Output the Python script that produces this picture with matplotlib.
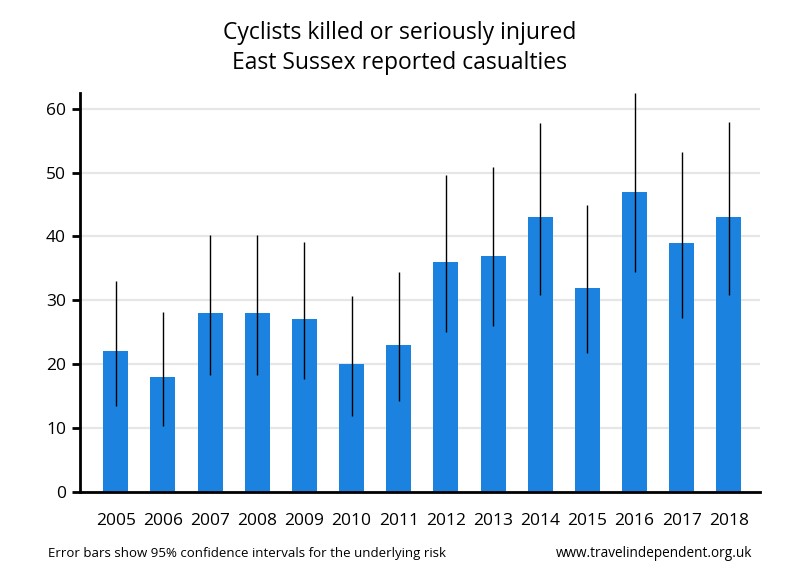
import numpy as np
import matplotlib.pyplot as plt

plt.rcParams['font.family'] = ['Open Sans', 'DejaVu Sans']

# data
years = ['2005', '2006', '2007', '2008', '2009', '2010', '2011',
         '2012', '2013', '2014', '2015', '2016', '2017', '2018']
casualties = [22, 18, 28, 28, 27, 20, 23, 36, 37, 43, 32, 47, 39, 43]
ci_low = [13.5, 10.3, 18.3, 18.3, 17.6, 11.9, 14.3, 25.1, 26.0, 30.9, 21.8, 34.5, 27.3, 30.9]
ci_high = [33.1, 28.2, 40.3, 40.3, 39.2, 30.7, 34.5, 49.7, 50.9, 57.8, 45.0, 62.4, 53.2, 57.9]

x = np.arange(len(years))
vals = np.array(casualties)
err = [vals - np.array(ci_low), np.array(ci_high) - vals]

fig = plt.figure(figsize=(8, 5.8), dpi=100)
ax = fig.add_axes([0.1, 0.152, 0.85, 0.688])

ax.bar(x, vals, width=0.53, color='#1c82e0', zorder=2)
ax.errorbar(x, vals, yerr=err, fmt='none', ecolor='black', elinewidth=1, capsize=0, zorder=3)

ax.set_xlim(-0.76, 13.66)
ax.set_ylim(0, 62.5)
ax.set_yticks([0, 10, 20, 30, 40, 50, 60])
ax.set_xticks(x)
ax.set_xticklabels(years)
ax.yaxis.grid(True, color='#e6e6e6', linewidth=1.6, zorder=0)
ax.set_axisbelow(True)

for s in ['top', 'right']:
    ax.spines[s].set_visible(False)
ax.spines['left'].set_linewidth(2)
ax.spines['bottom'].set_linewidth(2)
ax.tick_params(axis='y', length=6, width=2, labelsize=12.5, pad=4)
ax.tick_params(axis='x', length=0, labelsize=12.5, pad=15)

fig.text(0.5, 0.943, 'Cyclists killed or seriously injured', ha='center', va='center', fontsize=16.5)
fig.text(0.5, 0.891, 'East Sussex reported casualties', ha='center', va='center', fontsize=16.5)
fig.text(0.06, 0.046, 'Error bars show 95% confidence intervals for the underlying risk',
         ha='left', va='center', fontsize=9.5)
fig.text(0.94, 0.046, 'www.travelindependent.org.uk', ha='right', va='center', fontsize=9.8)

fig.savefig('out.png', dpi=100)
